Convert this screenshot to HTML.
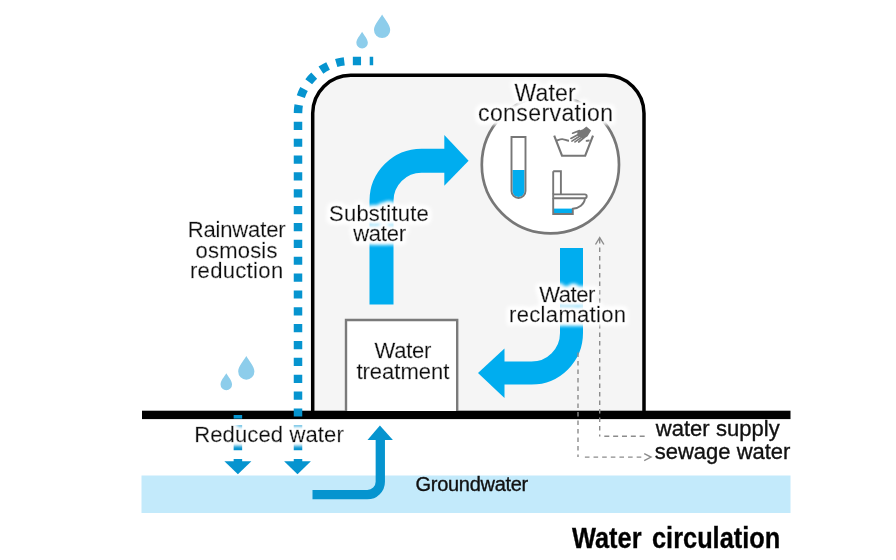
<!DOCTYPE html>
<html><head><meta charset="utf-8">
<style>
html,body{margin:0;padding:0;background:#fff;width:896px;height:560px;overflow:hidden}
svg{display:block}
text{font-family:"Liberation Sans",sans-serif;fill:#111;stroke:#111;stroke-width:0.35px}
</style></head>
<body>
<svg width="896" height="560" viewBox="0 0 896 560">
<defs>
<filter id="gray"><feOffset dx="0" dy="0"/></filter>
<filter id="glow" x="-30%" y="-60%" width="160%" height="220%">
  <feMorphology in="SourceAlpha" operator="dilate" radius="2.2" result="d"/>
  <feGaussianBlur in="d" stdDeviation="2" result="b"/>
  <feFlood flood-color="#ffffff"/>
  <feComposite in2="b" operator="in" result="w"/>
  <feMerge><feMergeNode in="w"/><feMergeNode in="w"/><feMergeNode in="w"/><feMergeNode in="SourceGraphic"/></feMerge>
</filter>
</defs>

<!-- building -->
<path d="M312.7,411 V113.3 A38,38 0 0 1 350.7,75.3 H606 A38,38 0 0 1 644,113.3 V411 Z" fill="#f5f5f5" stroke="none"/>
<path d="M312.7,411 V113.3 A38,38 0 0 1 350.7,75.3 H606 A38,38 0 0 1 644,113.3 V411" fill="none" stroke="#000" stroke-width="3.5"/>

<!-- groundwater band -->
<rect x="141.5" y="475.5" width="649" height="37.5" fill="#c3eafb"/>

<!-- ground bar -->
<rect x="142" y="410.7" width="648.5" height="8.4" fill="#000"/>

<!-- rainwater dotted line -->
<path d="M298,475 V113.5 A52.5,52.5 0 0 1 350.5,61 H373.2" fill="none" stroke="#0694cf" stroke-width="8.5" stroke-dasharray="8.2 8.66" stroke-dashoffset="-7.82"/>
<path d="M237.9,475 V425" fill="none" stroke="#0694cf" stroke-width="8.5" stroke-dasharray="8.2 8.66" stroke-dashoffset="-7.82"/>
<rect x="233.65" y="415" width="8.5" height="3.6" fill="#0694cf"/>
<polygon points="284.1,461.3 310.9,461.3 297.5,474.3" fill="#0694cf"/>
<polygon points="224.4,461.3 251.4,461.3 237.9,474.3" fill="#0694cf"/>

<!-- drops -->
<g id="drops" fill="#8dcdeb">
<path d="M382.1,14.4 C384.5,19 390.2,24.5 390.2,30 A8.1,8.1 0 0 1 374,30 C374,24.5 379.7,19 382.1,14.4Z"/>
<path d="M362.1,31.7 C363.8,35 367.85,38.9 367.85,42.8 A5.75,5.75 0 0 1 356.35,42.8 C356.35,38.9 360.4,35 362.1,31.7Z"/>
</g>
<use href="#drops" transform="translate(-135.8 341.6)"/>

<!-- groundwater up arrow -->
<path d="M312.5,494.7 H367.3 A13,13 0 0 0 380.3,481.7 V439" fill="none" stroke="#0694cf" stroke-width="9.3"/>
<polygon points="367.5,440.1 392.9,440.1 379.9,425.6" fill="#0694cf"/>

<!-- substitute arrow -->
<path d="M381.5,304.5 V200.7 A40,40 0 0 1 421.5,160.7 H445" fill="none" stroke="#00adef" stroke-width="24"/>
<polygon points="444.3,135 468.6,160.7 444.3,185.7" fill="#00adef"/>

<!-- reclamation arrow -->
<path d="M571.5,248 V333 A40,40 0 0 1 531.5,373 H504" fill="none" stroke="#00adef" stroke-width="23"/>
<polygon points="504.5,348.6 478,373 504.5,398" fill="#00adef"/>

<!-- treatment box -->
<path d="M346,411 V320 H457.2 V411 Z" fill="#fff"/><path d="M346,411 V320 H457.2 V411" fill="none" stroke="#7a7a7a" stroke-width="2.4"/>

<!-- conservation circle -->
<circle cx="550.4" cy="164.7" r="68.6" fill="#fff" stroke="#777" stroke-width="2.7"/>
<g fill="none" stroke="#777" stroke-width="1.9">
<path d="M512.5,170 H524.5 V191 A6,6 0 0 1 512.5,191 Z" fill="#00adef" stroke="none"/>
<path d="M511.5,137 H525.5 V191 A7,7 0 0 1 511.5,191 Z"/>
<path d="M554.2,135.6 L562,155.7 H585.2 L593,135.6" stroke-width="2.1"/>
<path d="M556.8,140.6 C559,139.8 561,138.6 563.5,139.3 C565.5,139.8 567,140.8 569,140.8"/>
<path d="M585.8,140.9 C587.2,140.9 588.4,140.7 589.6,140.4"/>
<rect x="553.6" y="208.6" width="19.4" height="5" fill="#00adef" stroke="none"/>
<path d="M553.2,171.2 H560.9 V194.2 M553.2,194.2 V171.2"/>
<path d="M553.2,194.4 H584.8 A1.9,1.9 0 0 1 584.8,198.2 H553.2 Z"/>
<path d="M553.2,198.2 V214 H572.8 V208.8 C578.5,208.2 584.5,204.5 585,198.2"/>
</g>
<g fill="#777">
<path d="M586.4,126.6 L591.1,130.6 L587.6,136.2 L583.4,139 L577.6,135.4 L577.2,131.6 L583,129.3 Z"/>
</g>
<g stroke="#777" stroke-width="1.7" stroke-linecap="round" fill="none">
<path d="M579.5,130.6 L572.6,133.2"/>
<path d="M578.3,134.4 L570.9,138.4"/>
<path d="M579.6,136.2 L571.9,141.1"/>
<path d="M581.5,137.4 L575,141.9"/>
<path d="M583.6,138 L578.7,142"/>
</g>

<!-- gray dashed lines -->
<g fill="none" stroke="#8c8c8c" stroke-width="1.4">
<path d="M599.7,239 V436.4" stroke-dasharray="4.6 3.9"/>
<path d="M604.3,436.3 H645" stroke-dasharray="5 3.84"/>
<path d="M595.5,244.5 L599.7,237.6 L603.9,244.5"/>
<path d="M578,352.5 V457.1" stroke-dasharray="4.6 3.9"/>
<path d="M584.9,457.1 H642" stroke-dasharray="4.6 4.03"/>
<path d="M644.2,453.6 L651,457.1 L644.2,460.6"/>
</g>

<!-- texts -->
<g filter="url(#glow)">
<text x="514.6" y="101.4" font-size="23" letter-spacing="0.14">Water</text>
<text x="478.0" y="121.2" font-size="23" letter-spacing="0.41">conservation</text>
<text x="329.1" y="220.9" font-size="22" letter-spacing="0.20">Substitute</text>
<text x="353.2" y="241.0" font-size="22" letter-spacing="-0.24">water</text>
<text x="539.2" y="301.9" font-size="22" letter-spacing="-0.41">Water</text>
<text x="509.1" y="321.5" font-size="22" letter-spacing="0.32">reclamation</text>
<text x="374.5" y="358.1" font-size="22" letter-spacing="-0.23">Water</text>
<text x="356.4" y="378.8" font-size="22" letter-spacing="0">treatment</text>
<text x="187.7" y="237.3" font-size="22" letter-spacing="-0.14">Rainwater</text>
<text x="195.6" y="257.9" font-size="22" letter-spacing="0.19">osmosis</text>
<text x="189.9" y="277.9" font-size="22" letter-spacing="0.34">reduction</text>
<text x="194.2" y="441.6" font-size="22" letter-spacing="0.13">Reduced water</text>
</g>
<g filter="url(#gray)">
<text x="655.7" y="436.3" font-size="22" letter-spacing="0.05">water supply</text>
<text x="654.7" y="459.1" font-size="22" letter-spacing="0">sewage water</text>
<text x="415.6" y="491.4" font-size="20" letter-spacing="-0.3">Groundwater</text>
</g>

<!-- title -->
<g style="fill:#000;stroke:#000;stroke-width:2.4px" font-size="29" font-weight="bold" filter="url(#gray)">
<text x="0" y="0" transform="translate(572 548.4) scale(0.875 1)" style="fill:#000">Water</text>
<text x="0" y="0" transform="translate(652 548.4) scale(0.875 1)" style="fill:#000">circulation</text>
</g>
</svg>
</body></html>
